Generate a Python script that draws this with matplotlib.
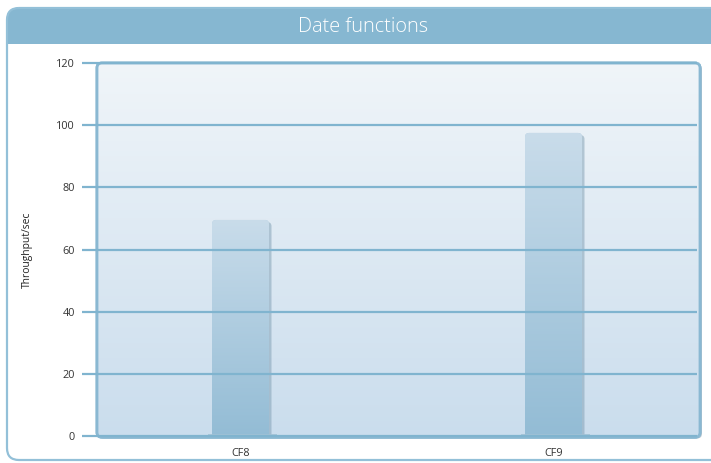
import matplotlib
matplotlib.use('Agg')
import matplotlib.pyplot as plt
import numpy as np
from matplotlib.patches import FancyBboxPatch, Rectangle
from matplotlib.colors import LinearSegmentedColormap

title = "Date functions"
categories = ["CF8", "CF9"]
values = [69.5, 97.5]
yticks = [0, 20, 40, 60, 80, 100, 120]
ylabel = "Throughput/sec"

plt.rcParams['font.family'] = ['Open Sans', 'DejaVu Sans']

W, H = 711, 463
fig = plt.figure(figsize=(W / 100, H / 100), dpi=100)

# ---- outer frame and title bar (pixel coordinates) ----
bg = fig.add_axes([0, 0, 1, 1])
bg.set_xlim(0, W)
bg.set_ylim(H, 0)
bg.axis('off')
FW = 820
frame = FancyBboxPatch((7, 8), FW, 452, boxstyle="round,pad=0,rounding_size=12",
                       fc='white', ec='none', lw=0)
bg.add_patch(frame)
tb = Rectangle((0, 0), W + 200, 43.5, fc='#86b7d1', ec='none')
bg.add_patch(tb)
tb.set_clip_path(frame)
frame_b = FancyBboxPatch((7, 8), FW, 452, boxstyle="round,pad=0,rounding_size=12",
                         fc='none', ec='#93c0d8', lw=1.6)
bg.add_patch(frame_b)
bg.text(363, 27.5, title, color='white', ha='center', va='center',
        fontsize=14.3, fontweight='light')
bg.text(27, 250, ylabel, rotation=90, ha='center', va='center',
        fontsize=7.4, color='#222222')

# ---- main axes ----
ax_l, ax_r, ax_t, ax_b = 82, 700, 63, 436
ax = fig.add_axes([ax_l / W, (H - ax_b) / H, (ax_r - ax_l) / W, (ax_b - ax_t) / H])
ax.set_facecolor('none')
for s in ax.spines.values():
    s.set_visible(False)

ppx = 313.0                      # pixels per category step
ppy = (ax_b - ax_t) / 120.0      # pixels per y unit
idx = np.arange(len(categories))
c0 = 240.5                       # pixel x of first category
xlo = (ax_l - c0) / ppx
xhi = (ax_r - c0) / ppx
ax.set_xlim(xlo, xhi)
ax.set_ylim(0, 120)
aspect = ppx / ppy

def px2x(p):
    return (p - c0) / ppx

# background box shadow
box_x0, box_x1 = px2x(97), px2x(700)
shadow = FancyBboxPatch((box_x0 + 2 / ppx, -2.5 / ppy), box_x1 - box_x0, 120 + 0.3,
                        boxstyle=f"round,pad=0,rounding_size={5/ppx}",
                        mutation_aspect=aspect, fc='#7f98aa', ec='none', alpha=0.55,
                        clip_on=False, zorder=0.5)
ax.add_patch(shadow)
box = FancyBboxPatch((box_x0, -0.4), box_x1 - box_x0, 120.4,
                     boxstyle=f"round,pad=0,rounding_size={5/ppx}",
                     mutation_aspect=aspect, fc='#dde9f1', ec='#8ab8d2', lw=2,
                     clip_on=False, zorder=1)
ax.add_patch(box)
grad = np.linspace(0, 1, 256).reshape(-1, 1)
cm_bg = LinearSegmentedColormap.from_list('bgc', ['#f0f5f9', '#cadded'])
im = ax.imshow(grad, extent=[box_x0, box_x1, -0.4, 120], origin='upper',
               aspect='auto', cmap=cm_bg, zorder=1.1, clip_on=False)
im.set_clip_path(box)
box_e = FancyBboxPatch((box_x0, -0.4), box_x1 - box_x0, 120.4,
                       boxstyle=f"round,pad=0,rounding_size={5/ppx}",
                       mutation_aspect=aspect, fc='none', ec='#8ab8d2', lw=2,
                       clip_on=False, zorder=1.2)
ax.add_patch(box_e)

# bars
bw = 57 / ppx
cm_bar = LinearSegmentedColormap.from_list('barc', ['#c9dcea', '#93bcd5'])
for i, v in zip(idx, values):
    sh = FancyBboxPatch((i - bw / 2 + 2.5 / ppx, -3), bw, v + 3 - 0.7,
                        boxstyle=f"round,pad=0,rounding_size={4/ppx}",
                        mutation_aspect=aspect, fc='#7d9db2', ec='none', alpha=0.5,
                        zorder=2)
    ax.add_patch(sh)
    bar = FancyBboxPatch((i - bw / 2, -3), bw, v + 3,
                         boxstyle=f"round,pad=0,rounding_size={4/ppx}",
                         mutation_aspect=aspect, fc='#b5d0e2', ec='none', zorder=2.5)
    ax.add_patch(bar)
    bim = ax.imshow(grad, extent=[i - bw / 2, i + bw / 2, 0, v], origin='upper',
                    aspect='auto', cmap=cm_bar, zorder=2.6)
    bim.set_clip_path(bar)
    ax.hlines(0.2, i - bw / 2 - 4 / ppx, i + bw / 2 + 8 / ppx, color='#a3c3d6',
              lw=1.2, zorder=2.7)

ax.set_xlim(xlo, xhi)
ax.set_ylim(0, 120)

# gridlines (extend past box on left like ticks)
ax.hlines(yticks, xlo, px2x(697), color='#80b4cf', lw=1.6, zorder=5, clip_on=False)

ax.set_yticks(yticks)
ax.set_xticks(idx, categories)
ax.tick_params(axis='both', length=0, labelsize=7.8, labelcolor='#333333')
ax.tick_params(axis='y', pad=5)
ax.tick_params(axis='x', pad=8.5)

fig.savefig('out.png', dpi=100)
